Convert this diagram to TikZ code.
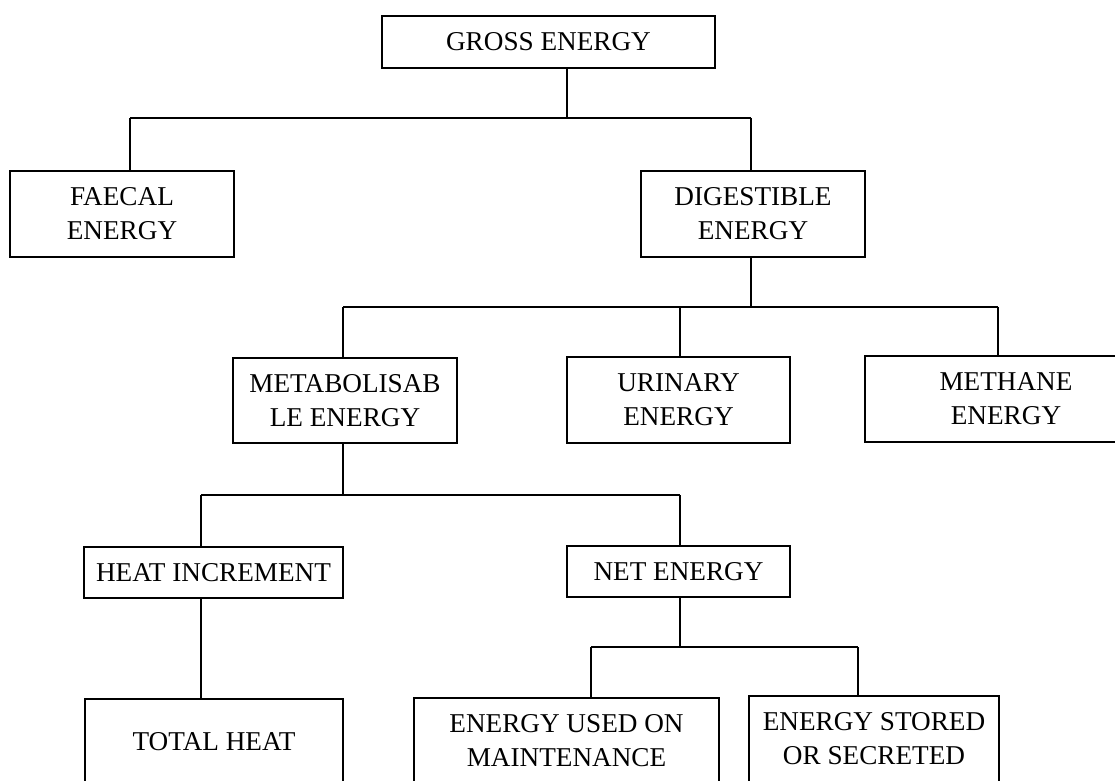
\documentclass[tikz,border=0pt]{standalone}
\usepackage{fontspec}
\setmainfont{Liberation Serif}
\begin{document}
\begin{tikzpicture}[x=0.75pt,y=-0.75pt,
  line width=1.3pt,
  bx/.style 2 args={draw, rectangle, inner sep=0pt, align=center,
    minimum width=#1*0.75pt, minimum height=#2*0.75pt,
    font=\fontsize{20.4}{25.5}\selectfont},
  conn/.style={draw, line width=1.3pt}]
\useasboundingbox (0,0) rectangle (1115,781);
\clip (0,0) rectangle (1115,781);
\fill[white] (0,0) rectangle (1115,781);
% nodes
\node[bx={333}{52}] (gross) at (548.5,42) {GROSS ENERGY};
\node[bx={224}{86}] (faecal) at (122,214) {FAECAL\\ENERGY};
\node[bx={224}{86}] (digest) at (753,214) {DIGESTIBLE\\ENERGY};
\node[bx={224}{85}] (metab) at (345,400.5) {METABOLISAB\\LE ENERGY};
\node[bx={223}{86}] (urin) at (678.5,400) {URINARY\\ENERGY};
\node[bx={282}{86}] (meth) at (1006,399) {METHANE\\ENERGY};
\node[bx={259}{51}] (heatinc) at (213.5,572.5) {HEAT INCREMENT};
\node[bx={223}{51}] (net) at (678.5,571.5) {NET ENERGY};
\node[bx={258}{86}] (total) at (214,742) {TOTAL HEAT};
\node[bx={305}{86}] (maint) at (566.5,741) {ENERGY USED ON\\MAINTENANCE};
\node[bx={250}{86}] (stored) at (874,739) {ENERGY STORED\\OR SECRETED};
% junction coordinates
\coordinate (g0) at (567,118);
\coordinate (g1) at (130,118);
\coordinate (g2) at (751,118);
\coordinate (d0) at (751,307);
\coordinate (d1) at (343,307);
\coordinate (d2) at (680,307);
\coordinate (d3) at (998,307);
\coordinate (m0) at (343,495);
\coordinate (m1) at (201,495);
\coordinate (m2) at (680,495);
\coordinate (n0) at (680,647);
\coordinate (n1) at (591,647);
\coordinate (n2) at (858,647);
% connectors
\draw[conn] (gross.south -| g0) -- (g0);
\draw[conn] (g1) -- (g2);
\draw[conn] (g1) -- (faecal.north -| g1);
\draw[conn] (g2) -- (digest.north -| g2);
\draw[conn] (digest.south -| d0) -- (d0);
\draw[conn] (d1) -- (d3);
\draw[conn] (d1) -- (metab.north -| d1);
\draw[conn] (d2) -- (urin.north -| d2);
\draw[conn] (d3) -- (meth.north -| d3);
\draw[conn] (metab.south -| m0) -- (m0);
\draw[conn] (m1) -- (m2);
\draw[conn] (m1) -- (heatinc.north -| m1);
\draw[conn] (m2) -- (net.north -| m2);
\draw[conn] (heatinc.south -| m1) -- (total.north -| m1);
\draw[conn] (net.south -| n0) -- (n0);
\draw[conn] (n1) -- (n2);
\draw[conn] (n1) -- (maint.north -| n1);
\draw[conn] (n2) -- (stored.north -| n2);
\end{tikzpicture}
\end{document}
